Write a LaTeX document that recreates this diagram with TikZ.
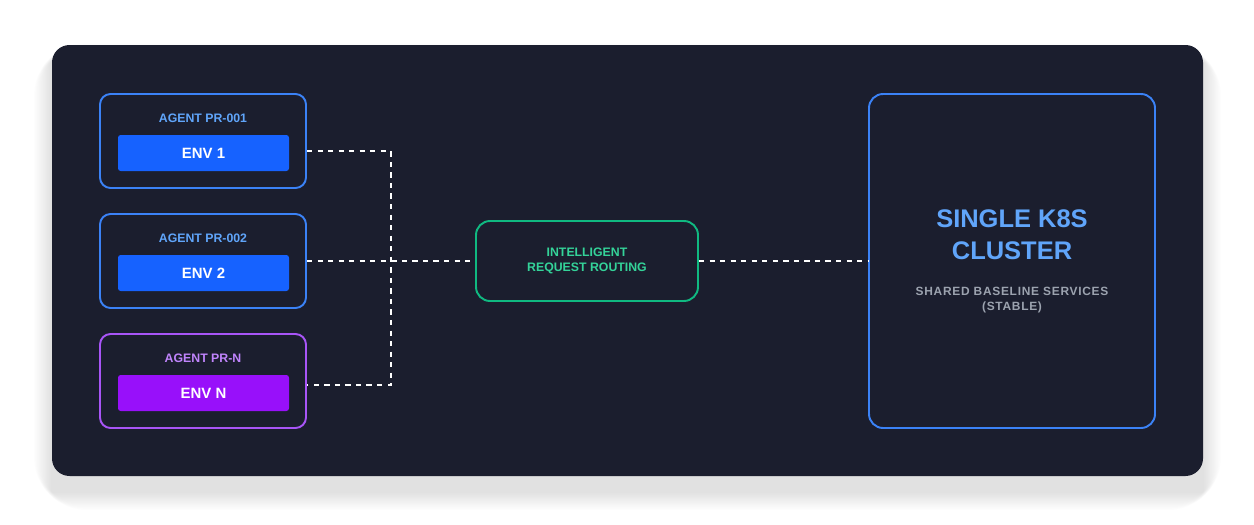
\documentclass[tikz,border=0pt]{standalone}
\usepackage{fontspec}
\setmainfont{Liberation Sans}
\usetikzlibrary{positioning}
\definecolor{panelbg}{HTML}{1B1E2E}
\definecolor{bluebd}{HTML}{3B82F6}
\definecolor{bluetx}{HTML}{60A5FA}
\definecolor{bluefill}{HTML}{1662FF}
\definecolor{purplebd}{HTML}{A855F7}
\definecolor{purpletx}{HTML}{C084FC}
\definecolor{purplefill}{HTML}{9810FA}
\definecolor{greenbd}{HTML}{10B981}
\definecolor{greentx}{HTML}{34D399}
\definecolor{graytx}{HTML}{9CA3AF}
\begin{document}
\begin{tikzpicture}[x=0.02cm, y=-0.02cm,
    every node/.style={font=\bfseries},
    agentbox/.style={draw=bluebd, line width=1.1pt, rounded corners=6pt,
        minimum width=206*0.02cm, minimum height=94*0.02cm},
    envbar/.style={fill=bluefill, text=white, rounded corners=1.5pt, minimum width=171*0.02cm,
        minimum height=36*0.02cm, inner sep=0pt, font=\bfseries\fontsize{8.5}{10}\selectfont},
    agentlabel/.style={text=bluetx, font=\bfseries\fontsize{7}{8}\selectfont},
    link/.style={draw=white, dashed, line width=0.9pt}
]
% canvas and shadow
\useasboundingbox (0,0) rectangle (1254,524);
\fill[white] (0,0) rectangle (1254,524);
\foreach \s in {2,4,...,30}
    \fill[black, opacity=0.007, rounded corners=\s pt] (52-\s*0.6,45-\s*0.6+16) rectangle (1203+\s*0.6,476+\s*0.6+16);
\fill[panelbg, rounded corners=10pt] (52,45) rectangle (1203,476);

% agents
\node[agentbox] (agent1) at (203,141) {};
\node[agentlabel] at (203,118.5) {AGENT PR-001};
\node[envbar] (env1) at (203.5,153) {ENV 1};

\node[agentbox] (agent2) at (203,261) {};
\node[agentlabel] at (203,238.5) {AGENT PR-002};
\node[envbar] (env2) at (203.5,273) {ENV 2};

\node[agentbox, draw=purplebd] (agent3) at (203,381) {};
\node[agentlabel, text=purpletx] at (203,358.5) {AGENT PR-N};
\node[envbar, fill=purplefill] (env3) at (203.5,393) {ENV N};

% routing
\node[draw=greenbd, line width=1.1pt, rounded corners=8pt, minimum width=222*0.02cm,
    minimum height=80*0.02cm, align=center, text=greentx,
    font=\bfseries\fontsize{7}{8.5}\selectfont] (router) at (587,261)
    {INTELLIGENT\\REQUEST ROUTING};

% cluster
\node[draw=bluebd, line width=1.1pt, rounded corners=8pt, minimum width=286*0.02cm,
    minimum height=334*0.02cm] (cluster) at (1012,261) {};
\node[text=bluetx, align=center, font=\bfseries\fontsize{14.5}{18}\selectfont] at (1012,235)
    {SINGLE K8S\\CLUSTER};
\node[text=graytx, align=center, font=\bfseries\addfontfeatures{LetterSpace=6}\fontsize{6.8}{8.5}\selectfont] at (1012,300)
    {SHARED BASELINE SERVICES\\(STABLE)};

% connectors
\coordinate (bus1) at (391,151);
\coordinate (bus3) at (391,385);
\draw[link] (agent1.east |- bus1) -- (bus1) -- (bus3) -- (agent3.east |- bus3);
\draw[link] (agent2.east) -- (router.west);
\draw[link] (router.east) -- (cluster.west);
\end{tikzpicture}
\end{document}
